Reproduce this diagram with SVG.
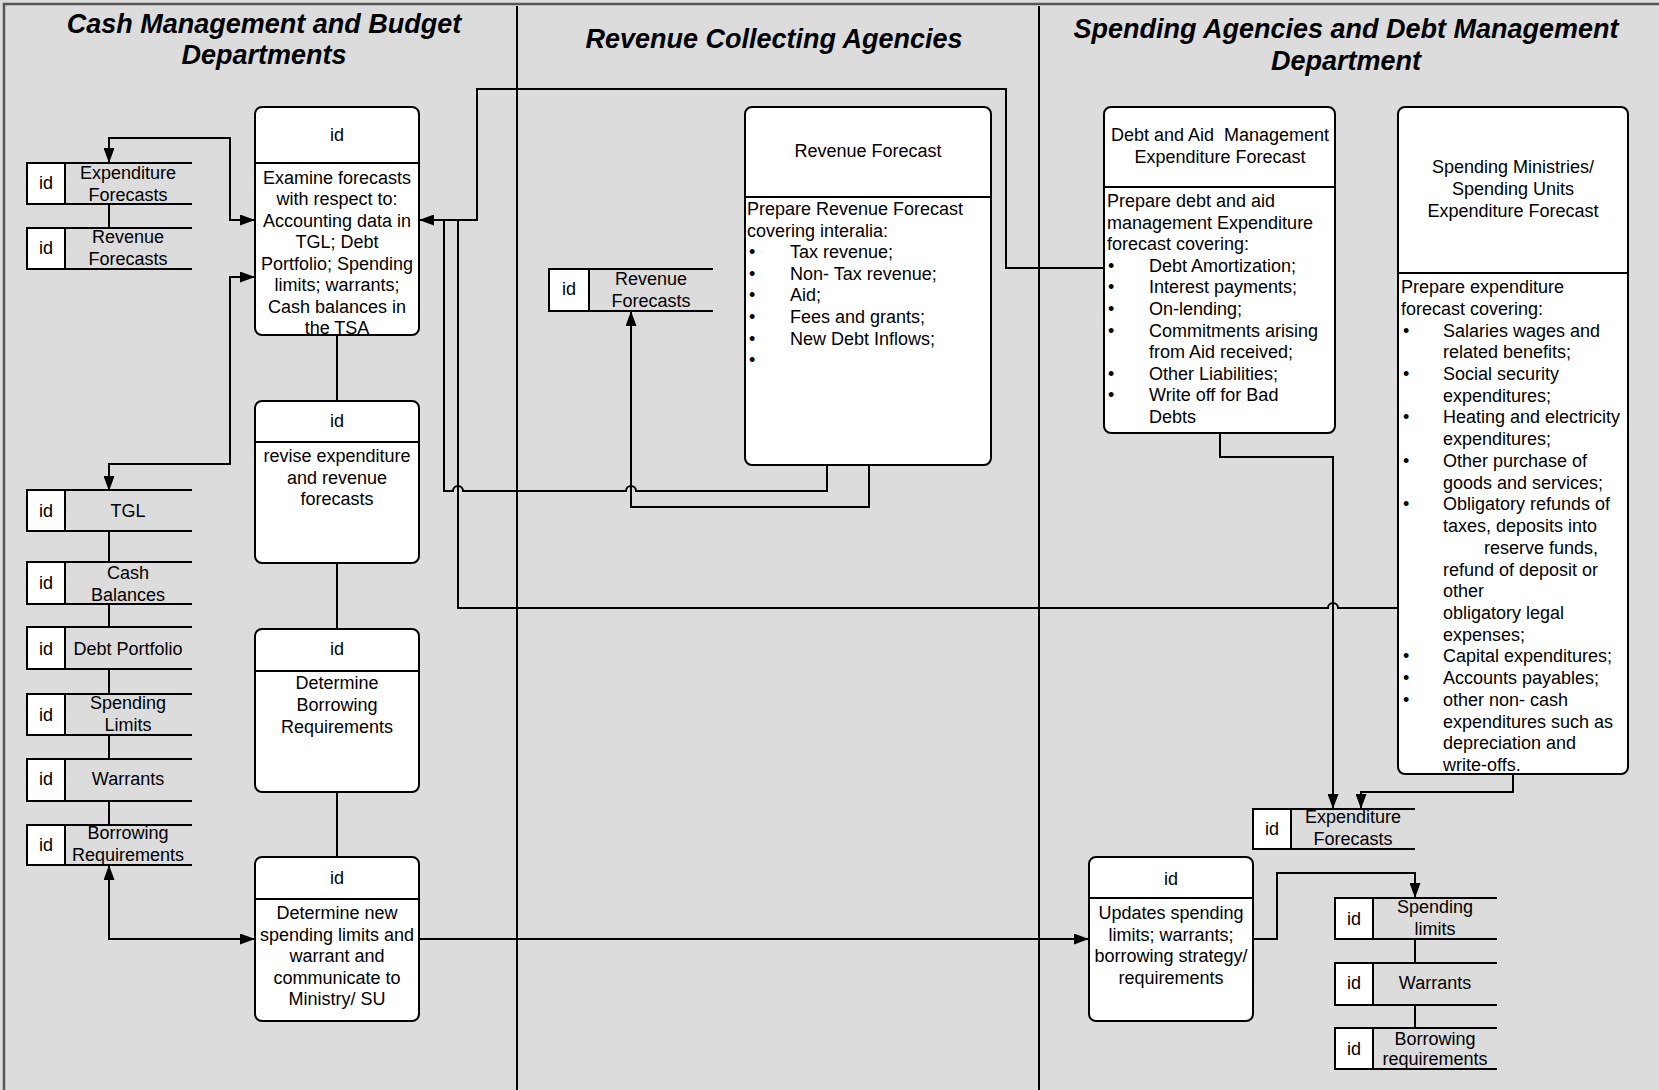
<svg xmlns="http://www.w3.org/2000/svg" width="1659" height="1090" viewBox="0 0 1659 1090">
<style>
.bg{fill:#dcdcdc}
.frame{fill:none;stroke:#555;stroke-width:2.5}
.lane{stroke:#000;stroke-width:2}
.box{fill:#fff;stroke:#000;stroke-width:2}
.sep{stroke:#000;stroke-width:2}
.idb{fill:#fff;stroke:#000;stroke-width:2}
.st{stroke:#000;stroke-width:2}
.wire{fill:none;stroke:#000;stroke-width:2}
.arr{marker-end:url(#ah)}
.both{marker-start:url(#ah);marker-end:url(#ah)}
text{font-family:"Liberation Sans",Arial,sans-serif;font-size:18px;fill:#000}
.c{text-anchor:middle}
.title{font-size:27px;font-weight:bold;font-style:italic}
</style>
<defs>
<marker id="ah" viewBox="0 0 15 11" refX="15" refY="5.5" markerWidth="15" markerHeight="11" markerUnits="userSpaceOnUse" orient="auto-start-reverse">
<path d="M0,0 L15,5.5 L0,11 z" fill="#000"/>
</marker>
</defs>

<!-- canvas and swimlanes -->
<rect class="bg" x="0" y="0" width="1659" height="1090"/>
<rect class="frame" x="4" y="4" width="1700" height="1100"/>
<line class="lane" x1="517" y1="6" x2="517" y2="1090"/>
<line class="lane" x1="1039" y1="6" x2="1039" y2="1090"/>

<g id="lane-titles">
<text class="title c" x="264" y="33">Cash Management and Budget</text>
<text class="title c" x="264" y="64">Departments</text>
<text class="title c" x="774" y="48">Revenue Collecting Agencies</text>
<text class="title c" x="1346" y="38">Spending Agencies and Debt Management</text>
<text class="title c" x="1346" y="70">Department</text>
</g>

<!-- connectors -->
<g id="connectors">
<line class="wire" x1="337" y1="335" x2="337" y2="401"/>
<line class="wire" x1="337" y1="563" x2="337" y2="629"/>
<line class="wire" x1="337" y1="792" x2="337" y2="857"/>
<path class="wire both" d="M109,163 V138 H230 V220 H255"/>
<path class="wire both" d="M109,491 V464 H230 V277 H255"/>
<path class="wire both" d="M109,865 V939 H255"/>
<path class="wire arr" d="M419,939 H1089"/>
<line class="wire" x1="109" y1="204" x2="109" y2="228"/>
<line class="wire" x1="109" y1="531" x2="109" y2="562"/>
<line class="wire" x1="109" y1="604" x2="109" y2="627"/>
<line class="wire" x1="109" y1="669" x2="109" y2="694"/>
<line class="wire" x1="109" y1="735" x2="109" y2="759"/>
<line class="wire" x1="109" y1="801" x2="109" y2="825"/>
<path class="wire arr" d="M1104,268 H1006 V89 H477 V220 H419"/>
<path class="wire" d="M827,465 V491 H636 A5,5 0 0 0 626,491 H463 A5,5 0 0 0 453,491 H444 V220"/>
<path class="wire arr" d="M869,465 V507 H631 V311"/>
<path class="wire" d="M1398,608 H1338 A5,5 0 0 0 1328,608 H458 V220"/>
<path class="wire arr" d="M1220,433 V457 H1333 V809"/>
<path class="wire arr" d="M1513,774 V792 H1361 V809"/>
<path class="wire arr" d="M1253,939 H1277 V873 H1415 V898"/>
<line class="wire" x1="1415" y1="939" x2="1415" y2="963"/>
<line class="wire" x1="1415" y1="1005" x2="1415" y2="1028"/>
</g>

<!-- process nodes -->
<g id="examine-forecasts">
<rect class="box" x="255" y="107" width="164" height="228" rx="7"/>
<line class="sep" x1="255" y1="163" x2="419" y2="163"/>
<text class="c" x="337" y="141">id</text>
<text class="c" x="337" y="183.5">Examine forecasts</text>
<text class="c" x="337" y="205">with respect to:</text>
<text class="c" x="337" y="226.5">Accounting data in</text>
<text class="c" x="337" y="248">TGL; Debt</text>
<text class="c" x="337" y="269.5">Portfolio; Spending</text>
<text class="c" x="337" y="291">limits; warrants;</text>
<text class="c" x="337" y="312.5">Cash balances in</text>
<text class="c" x="337" y="334">the TSA</text>
</g>
<g id="revise-forecasts">
<rect class="box" x="255" y="401" width="164" height="162" rx="7"/>
<line class="sep" x1="255" y1="442" x2="419" y2="442"/>
<text class="c" x="337" y="427">id</text>
<text class="c" x="337" y="462">revise expenditure</text>
<text class="c" x="337" y="483.5">and revenue</text>
<text class="c" x="337" y="505">forecasts</text>
</g>
<g id="borrowing-requirements">
<rect class="box" x="255" y="629" width="164" height="163" rx="7"/>
<line class="sep" x1="255" y1="671" x2="419" y2="671"/>
<text class="c" x="337" y="655">id</text>
<text class="c" x="337" y="689">Determine</text>
<text class="c" x="337" y="711">Borrowing</text>
<text class="c" x="337" y="733">Requirements</text>
</g>
<g id="new-spending-limits">
<rect class="box" x="255" y="857" width="164" height="164" rx="7"/>
<line class="sep" x1="255" y1="899" x2="419" y2="899"/>
<text class="c" x="337" y="884">id</text>
<text class="c" x="337" y="919">Determine new</text>
<text class="c" x="337" y="940.6">spending limits and</text>
<text class="c" x="337" y="962.2">warrant and</text>
<text class="c" x="337" y="983.8">communicate to</text>
<text class="c" x="337" y="1005.4">Ministry/ SU</text>
</g>
<g id="revenue-forecast">
<rect class="box" x="745" y="107" width="246" height="358" rx="7"/>
<line class="sep" x1="745" y1="197" x2="991" y2="197"/>
<text class="c" x="868" y="157">Revenue Forecast</text>
<text x="747" y="215">Prepare Revenue Forecast</text>
<text x="747" y="236.6">covering interalia:</text>
<text x="749" y="258.2">•</text><text x="790" y="258.2">Tax revenue;</text>
<text x="749" y="279.8">•</text><text x="790" y="279.8">Non- Tax revenue;</text>
<text x="749" y="301.4">•</text><text x="790" y="301.4">Aid;</text>
<text x="749" y="323">•</text><text x="790" y="323">Fees and grants;</text>
<text x="749" y="344.6">•</text><text x="790" y="344.6">New Debt Inflows;</text>
<text x="749" y="366.2">•</text>
</g>
<g id="debt-aid-forecast">
<rect class="box" x="1104" y="107" width="231" height="326" rx="7"/>
<line class="sep" x1="1104" y1="187" x2="1335" y2="187"/>
<text class="c" x="1220" y="141">Debt and Aid &#160;Management</text>
<text class="c" x="1220" y="163">Expenditure Forecast</text>
<text x="1107" y="207">Prepare debt and aid</text>
<text x="1107" y="228.6">management Expenditure</text>
<text x="1107" y="250.2">forecast covering:</text>
<text x="1108" y="271.8">•</text><text x="1149" y="271.8">Debt Amortization;</text>
<text x="1108" y="293.4">•</text><text x="1149" y="293.4">Interest payments;</text>
<text x="1108" y="315">•</text><text x="1149" y="315">On-lending;</text>
<text x="1108" y="336.6">•</text><text x="1149" y="336.6">Commitments arising</text>
<text x="1149" y="358.2">from Aid received;</text>
<text x="1108" y="379.8">•</text><text x="1149" y="379.8">Other Liabilities;</text>
<text x="1108" y="401.4">•</text><text x="1149" y="401.4">Write off for Bad</text>
<text x="1149" y="423">Debts</text>
</g>
<g id="spending-units-forecast">
<rect class="box" x="1398" y="107" width="230" height="667" rx="7"/>
<line class="sep" x1="1398" y1="273" x2="1628" y2="273"/>
<text class="c" x="1513" y="173">Spending Ministries/</text>
<text class="c" x="1513" y="195">Spending Units</text>
<text class="c" x="1513" y="217">Expenditure Forecast</text>
<text x="1401" y="293">Prepare expenditure</text>
<text x="1401" y="314.7">forecast covering:</text>
<text x="1403" y="336.5">•</text><text x="1443" y="336.5">Salaries wages and</text>
<text x="1443" y="358.2">related benefits;</text>
<text x="1403" y="379.9">•</text><text x="1443" y="379.9">Social security</text>
<text x="1443" y="401.7">expenditures;</text>
<text x="1403" y="423.4">•</text><text x="1443" y="423.4">Heating and electricity</text>
<text x="1443" y="445.1">expenditures;</text>
<text x="1403" y="466.8">•</text><text x="1443" y="466.8">Other purchase of</text>
<text x="1443" y="488.6">goods and services;</text>
<text x="1403" y="510.3">•</text><text x="1443" y="510.3">Obligatory refunds of</text>
<text x="1443" y="532">taxes, deposits into</text>
<text x="1484" y="553.8">reserve funds,</text>
<text x="1443" y="575.5">refund of deposit or</text>
<text x="1443" y="597.2">other</text>
<text x="1443" y="619">obligatory legal</text>
<text x="1443" y="640.7">expenses;</text>
<text x="1403" y="662.4">•</text><text x="1443" y="662.4">Capital expenditures;</text>
<text x="1403" y="684.1">•</text><text x="1443" y="684.1">Accounts payables;</text>
<text x="1403" y="705.9">•</text><text x="1443" y="705.9">other non- cash</text>
<text x="1443" y="727.6">expenditures such as</text>
<text x="1443" y="749.3">depreciation and</text>
<text x="1443" y="771">write-offs.</text>
</g>
<g id="updates-spending-limits">
<rect class="box" x="1089" y="857" width="164" height="164" rx="7"/>
<line class="sep" x1="1089" y1="898" x2="1253" y2="898"/>
<text class="c" x="1171" y="885">id</text>
<text class="c" x="1171" y="919">Updates spending</text>
<text class="c" x="1171" y="940.6">limits; warrants;</text>
<text class="c" x="1171" y="962.2">borrowing strategy/</text>
<text class="c" x="1171" y="983.8">requirements</text>
</g>

<!-- data stores -->
<g id="store-expenditure-forecasts">
<rect class="idb" x="27" y="163" width="38" height="41"/>
<line class="st" x1="27" y1="163" x2="192" y2="163"/><line class="st" x1="27" y1="204" x2="192" y2="204"/>
<text class="c" x="46" y="189">id</text>
<text class="c" x="128" y="179">Expenditure</text>
<text class="c" x="128" y="201">Forecasts</text>
</g>
<g id="store-revenue-forecasts">
<rect class="idb" x="27" y="228" width="38" height="41"/>
<line class="st" x1="27" y1="228" x2="192" y2="228"/><line class="st" x1="27" y1="269" x2="192" y2="269"/>
<text class="c" x="46" y="254">id</text>
<text class="c" x="128" y="243">Revenue</text>
<text class="c" x="128" y="265">Forecasts</text>
</g>
<g id="store-tgl">
<rect class="idb" x="27" y="490" width="38" height="41"/>
<line class="st" x1="27" y1="490" x2="192" y2="490"/><line class="st" x1="27" y1="531" x2="192" y2="531"/>
<text class="c" x="46" y="517">id</text>
<text class="c" x="128" y="517">TGL</text>
</g>
<g id="store-cash-balances">
<rect class="idb" x="27" y="562" width="38" height="42"/>
<line class="st" x1="27" y1="562" x2="192" y2="562"/><line class="st" x1="27" y1="604" x2="192" y2="604"/>
<text class="c" x="46" y="589">id</text>
<text class="c" x="128" y="579">Cash</text>
<text class="c" x="128" y="601">Balances</text>
</g>
<g id="store-debt-portfolio">
<rect class="idb" x="27" y="627" width="38" height="42"/>
<line class="st" x1="27" y1="627" x2="192" y2="627"/><line class="st" x1="27" y1="669" x2="192" y2="669"/>
<text class="c" x="46" y="655">id</text>
<text class="c" x="128" y="655">Debt Portfolio</text>
</g>
<g id="store-spending-limits">
<rect class="idb" x="27" y="694" width="38" height="41"/>
<line class="st" x1="27" y1="694" x2="192" y2="694"/><line class="st" x1="27" y1="735" x2="192" y2="735"/>
<text class="c" x="46" y="721">id</text>
<text class="c" x="128" y="709">Spending</text>
<text class="c" x="128" y="731">Limits</text>
</g>
<g id="store-warrants">
<rect class="idb" x="27" y="759" width="38" height="42"/>
<line class="st" x1="27" y1="759" x2="192" y2="759"/><line class="st" x1="27" y1="801" x2="192" y2="801"/>
<text class="c" x="46" y="785">id</text>
<text class="c" x="128" y="785">Warrants</text>
</g>
<g id="store-borrowing-requirements">
<rect class="idb" x="27" y="825" width="38" height="40"/>
<line class="st" x1="27" y1="825" x2="192" y2="825"/><line class="st" x1="27" y1="865" x2="192" y2="865"/>
<text class="c" x="46" y="851">id</text>
<text class="c" x="128" y="839">Borrowing</text>
<text class="c" x="128" y="861">Requirements</text>
</g>
<g id="store-revenue-forecasts-rca">
<rect class="idb" x="549" y="269" width="40" height="42"/>
<line class="st" x1="549" y1="269" x2="713" y2="269"/><line class="st" x1="549" y1="311" x2="713" y2="311"/>
<text class="c" x="569" y="295">id</text>
<text class="c" x="651" y="285">Revenue</text>
<text class="c" x="651" y="307">Forecasts</text>
</g>
<g id="store-expenditure-forecasts-sa">
<rect class="idb" x="1253" y="809" width="38" height="40"/>
<line class="st" x1="1253" y1="809" x2="1415" y2="809"/><line class="st" x1="1253" y1="849" x2="1415" y2="849"/>
<text class="c" x="1272" y="835">id</text>
<text class="c" x="1353" y="823">Expenditure</text>
<text class="c" x="1353" y="845">Forecasts</text>
</g>
<g id="store-spending-limits-sa">
<rect class="idb" x="1335" y="898" width="38" height="41"/>
<line class="st" x1="1335" y1="898" x2="1497" y2="898"/><line class="st" x1="1335" y1="939" x2="1497" y2="939"/>
<text class="c" x="1354" y="925">id</text>
<text class="c" x="1435" y="913">Spending</text>
<text class="c" x="1435" y="935">limits</text>
</g>
<g id="store-warrants-sa">
<rect class="idb" x="1335" y="963" width="38" height="42"/>
<line class="st" x1="1335" y1="963" x2="1497" y2="963"/><line class="st" x1="1335" y1="1005" x2="1497" y2="1005"/>
<text class="c" x="1354" y="989">id</text>
<text class="c" x="1435" y="989">Warrants</text>
</g>
<g id="store-borrowing-requirements-sa">
<rect class="idb" x="1335" y="1028" width="38" height="41"/>
<line class="st" x1="1335" y1="1028" x2="1497" y2="1028"/><line class="st" x1="1335" y1="1069" x2="1497" y2="1069"/>
<text class="c" x="1354" y="1055">id</text>
<text class="c" x="1435" y="1045">Borrowing</text>
<text class="c" x="1435" y="1065">requirements</text>
</g>
</svg>
